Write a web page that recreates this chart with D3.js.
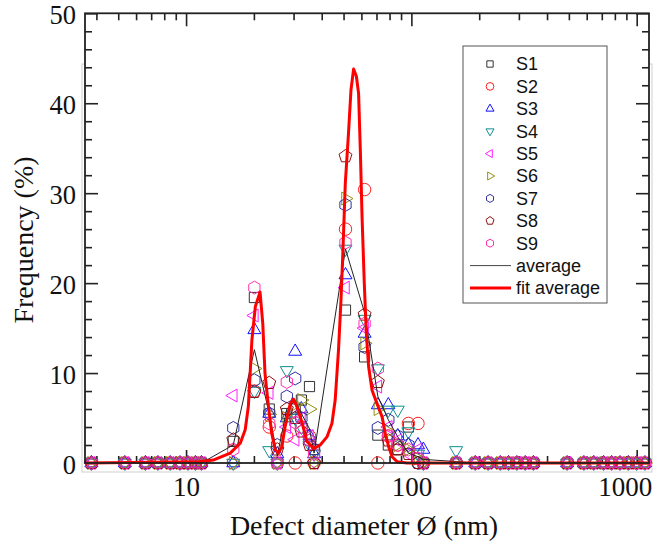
<!DOCTYPE html>
<html><head><meta charset="utf-8">
<script src="https://cdn.jsdelivr.net/npm/d3@7"></script>
<style>body{margin:0;background:#fff}</style>
</head><body><svg id="c" width="663" height="546"></svg>
<script>
// ---------------- DATA ----------------
const bins = [3.8,5.35,6.6,7.5,8.5,9.4,10.2,11.0,11.7,16.2,20.1,23.4,25.4,28.0,30.5,32.5,35.3,37.0,51,62,71,79,87,97,107,113,158,192,219,248,270,294,320,348,491,583,645,713,774,843,918,1000,1088];
const s1 = [0,0,0,0,0,0,0,0,0, 2.4,18.4,6.0,0,5.5,6.0,7.0,8.5,1.5, 17.0,11.8,3.1,2.0,1.5,4.0,0.5,0,0, 0,0,0,0,0,0,0,0,0,0,0,0,0,0,0,0];
const s2 = [0,0,0,0,0,0,0,0,0, 0,8.0,4.0,0,3.0,0,4.0,3.0,0, 26.0,30.4,0,3.0,2.0,4.4,4.4,0,0, 0,0,0,0,0,0,0,0,0,0,0,0,0,0,0,0];
const s3 = [0,0,0,0,0,0,0,0,0, 0,14.8,5.5,1.0,5.0,12.4,6.0,3.0,1.0, 20.9,14.4,6.45,6.45,3.0,2.0,2.0,1.5,0, 0,0,0,0,0,0,0,0,0,0,0,0,0,0,0,0];
const s4 = [0,0,0,0,0,0,0,0,0, 0,8.0,1.4,0,10.3,5.0,4.0,2.0,1.0, 23.8,16.0,10.5,5.9,5.9,3.5,1.0,0,1.4, 0,0,0,0,0,0,0,0,0,0,0,0,0,0,0,0];
const s5 = [0,0,0,0,0,0,0,0,0, 7.5,16.4,7.8,0,4.0,2.6,5.0,3.0,0, 19.5,15.0,8.5,4.0,2.5,1.0,1.5,0,0, 0,0,0,0,0,0,0,0,0,0,0,0,0,0,0,0];
const s6 = [0,0,0,0,0,0,0,0,0, 0,10.5,5.4,0,5.0,6.5,7.0,6.0,0, 29.4,13.3,6.0,3.5,2.0,1.5,0.5,0,0, 0,0,0,0,0,0,0,0,0,0,0,0,0,0,0,0];
const s7 = [0,0,0,0,0,0,0,0,0, 3.9,9.2,5.5,2.0,7.4,9.4,5.0,2.5,1.5, 28.7,12.9,3.9,4.8,3.0,2.0,0,0,0, 0,0,0,0,0,0,0,0,0,0,0,0,0,0,0,0];
const s8 = [0,0,0,0,0,0,0,0,0, 2.6,7.9,8.9,1.5,6.0,5.0,3.5,2.0,0, 34.1,16.5,9.0,2.5,1.5,1.0,0,0,0, 0,0,0,0,0,0,0,0,0,0,0,0,0,0,0,0];
const s9 = [0,0,0,0,0,0,0,0,0, 1.5,19.5,4.4,0,9.0,4.5,4.0,2.5,1.0, 24.5,15.5,10.5,3.0,2.0,1.5,0.5,0,0, 0,0,0,0,0,0,0,0,0,0,0,0,0,0,0,0];
const average = [0,0,0,0,0,0,0,0,0, 2.0,12.6,5.5,0.8,6.0,6.9,5.5,3.8,1.1, 23.8,16.7,7.4,4.8,2.9,1.1,0.7,0.4,0.16, 0,0,0,0,0,0,0,0,0,0,0,0,0,0,0,0];
const fitX = [3.56,11.5,13.2,15.7,17.4,18.3,18.9,19.25,19.6,20.3,21.3,21.9,22.4,23.2,24.0,24.9,25.7,26.6,27.5,29.0,30.0,31.0,32.7,34.4,36.8,39.4,42.2,44.4,45.9,47.5,48.7,49.7,50.9,52.6,53.95,55.4,57.0,58.3,59.35,60.4,61.8,63.1,64.6,66.9,70.4,74.1,76.6,79.3,82.1,86.4,95.7,1134];
const fitY = [0,0.15,0.33,1.1,2.2,3.7,6.3,10,13.7,17.4,19.0,15.5,10,6.3,3.3,1.45,1.1,1.8,4.0,6.6,7.1,6.3,4.5,2.4,1.6,2.0,2.9,4.4,7.0,12.6,18.1,23.7,31.1,36.7,41.5,43.8,43.0,41.1,34.8,27.4,20.0,14.4,10.7,8.1,6.6,5.15,3.3,1.8,0.7,0.15,0,0];
const seriesNames = ["S1","S2","S3","S4","S5","S6","S7","S8","S9"];
const seriesValues = [s1,s2,s3,s4,s5,s6,s7,s8,s9];
const xTicks = [10,100,1000];
const yTicks = [0,10,20,30,40,50];

// ---------------- STYLE ----------------
const colors = ["#333333","#ff2020","#1010ff","#109090","#ff20ff","#909010","#3030a0","#901010","#ff30b0"];
const shapes = [
  {n:4,rot:45,r:7.2},   // square
  {n:0,rot:0,r:6.2},    // circle
  {n:3,rot:0,r:7.5},    // up triangle
  {n:3,rot:180,r:7.5},  // down triangle
  {n:3,rot:-90,r:7.5},  // left triangle
  {n:3,rot:90,r:7.5},   // right triangle
  {n:6,rot:0,r:6.5},    // hexagon
  {n:5,rot:0,r:6.8},    // pentagon
  {n:6,rot:0,r:6.5}     // hexagon
];
function shapePath(sh, scale){
  const r = sh.r*scale;
  if(sh.n===0){
    const p = d3.path(); p.moveTo(r,0); p.arc(0,0,r,0,2*Math.PI); p.closePath(); return p.toString();
  }
  const pts=[];
  for(let i=0;i<sh.n;i++){
    const a=(sh.rot+i*360/sh.n)*Math.PI/180;
    pts.push([r*Math.sin(a),-r*Math.cos(a)]);
  }
  return "M"+pts.map(p=>p[0].toFixed(2)+","+p[1].toFixed(2)).join("L")+"Z";
}

const svg = d3.select("#c");
const L=85,R=649,T=13.3,B=463;
const x = d3.scaleLog().domain([3.56,1134]).range([L,R]);
const y = d3.scaleLinear().domain([0,50]).range([B,T]);

// light grey outer frame (partly covered by plot area)
svg.append("rect").attr("x",82).attr("y",64).attr("width",570).attr("height",408)
  .attr("fill","none").attr("stroke","#cfcfcf").attr("stroke-width",1);
svg.append("rect").attr("x",L).attr("y",T).attr("width",R-L).attr("height",B-T).attr("fill","#fff");

// minor ticks
const xMinor=[];
[1,10,100,1000].forEach(d=>{for(let k=2;k<=9;k++){const v=d*k; if(v>3.56&&v<1134) xMinor.push(v);}});
const yMinor=d3.range(0,51,2).filter(v=>v%10!==0);

const tickFont = "'Liberation Serif','Times New Roman',serif";
function styleAxis(g){
  g.select(".domain").remove();
  g.selectAll("line").attr("stroke","#222").attr("stroke-width",1.6);
  g.selectAll("text").attr("font-family",tickFont).attr("font-size",27).attr("fill","#111");
}
const xAxisG = svg.append("g").attr("transform",`translate(0,${B})`)
  .call(d3.axisBottom(x).tickValues(xTicks).tickFormat(d3.format("d")).tickSizeInner(-13).tickSizeOuter(0).tickPadding(14)).call(styleAxis);
xAxisG.selectAll(".tick text").filter(d=>d===1000).attr("text-anchor","end").attr("dx",15);
svg.append("g").attr("transform",`translate(0,${B})`)
  .call(d3.axisBottom(x).tickValues(xMinor).tickFormat("").tickSizeInner(-7).tickSizeOuter(0)).call(styleAxis);
svg.append("g").attr("transform",`translate(0,${T})`)
  .call(d3.axisTop(x).tickValues(xTicks).tickFormat("").tickSizeInner(-13).tickSizeOuter(0)).call(styleAxis);
svg.append("g").attr("transform",`translate(0,${T})`)
  .call(d3.axisTop(x).tickValues(xMinor).tickFormat("").tickSizeInner(-7).tickSizeOuter(0)).call(styleAxis);
const yAxisG = svg.append("g").attr("transform",`translate(${L},0)`)
  .call(d3.axisLeft(y).tickValues(yTicks).tickSizeInner(-13).tickSizeOuter(0).tickPadding(9)).call(styleAxis);
yAxisG.selectAll(".tick text").attr("font-size",26.5).attr("dy","0.4em");
svg.append("g").attr("transform",`translate(${L},0)`)
  .call(d3.axisLeft(y).tickValues(yMinor).tickFormat("").tickSizeInner(-7).tickSizeOuter(0)).call(styleAxis);
svg.append("g").attr("transform",`translate(${R},0)`)
  .call(d3.axisRight(y).tickValues(yTicks).tickFormat("").tickSizeInner(-13).tickSizeOuter(0)).call(styleAxis);
svg.append("g").attr("transform",`translate(${R},0)`)
  .call(d3.axisRight(y).tickValues(yMinor).tickFormat("").tickSizeInner(-7).tickSizeOuter(0)).call(styleAxis);

// markers
const plot = svg.append("g");
seriesValues.forEach((vals,si)=>{
  plot.append("g").selectAll("path").data(bins.map((b,i)=>[b,vals[i]])).join("path")
    .attr("transform",d=>`translate(${x(d[0])},${y(d[1])})`)
    .attr("d",shapePath(shapes[si],1))
    .attr("fill","none").attr("stroke",colors[si]).attr("stroke-width",1);
});

// average line
const line = d3.line().x(d=>x(d[0])).y(d=>y(d[1]));
plot.append("path").datum(bins.map((b,i)=>[b,average[i]]))
  .attr("d",line).attr("fill","none").attr("stroke","#222").attr("stroke-width",1);
// fit
const fitLine = d3.line().x(d=>x(d[0])).y(d=>y(d[1]));
plot.append("path").datum(fitX.map((v,i)=>[v,fitY[i]]))
  .attr("d",fitLine).attr("fill","none").attr("stroke","#ff0000").attr("stroke-width",3)
  .attr("stroke-linejoin","round");

// frame
svg.append("rect").attr("x",L).attr("y",T).attr("width",R-L).attr("height",B-T)
  .attr("fill","none").attr("stroke","#222").attr("stroke-width",1.8);

// titles
svg.append("text").attr("x",364).attr("y",535).attr("text-anchor","middle")
  .attr("font-family",tickFont).attr("font-size",28).attr("fill","#111").text("Defect diameter Ø (nm)");
svg.append("text").attr("transform","translate(33,240) rotate(-90)").attr("text-anchor","middle")
  .attr("font-family",tickFont).attr("font-size",28).attr("fill","#111").text("Frequency (%)");

// legend
const lg = svg.append("g");
lg.append("rect").attr("x",463).attr("y",46).attr("width",144).attr("height",257)
  .attr("fill","#fff").attr("stroke","#555").attr("stroke-width",1);
const rowY = i=>64+i*22.4;
const legFont="'Liberation Sans',Arial,sans-serif";
seriesNames.forEach((nm,i)=>{
  lg.append("path").attr("transform",`translate(490,${rowY(i)})`).attr("d",shapePath(shapes[i],0.62))
    .attr("fill","none").attr("stroke",colors[i]).attr("stroke-width",1);
  lg.append("text").attr("x",516).attr("y",rowY(i)).attr("dy","0.36em").attr("font-family",legFont)
    .attr("font-size",18).attr("fill","#111").text(nm);
});
lg.append("line").attr("x1",470).attr("x2",511).attr("y1",rowY(9)).attr("y2",rowY(9)).attr("stroke","#444").attr("stroke-width",1);
lg.append("text").attr("x",516).attr("y",rowY(9)).attr("dy","0.36em").attr("font-family",legFont).attr("font-size",18).attr("fill","#111").text("average");
lg.append("line").attr("x1",470).attr("x2",511).attr("y1",rowY(10)).attr("y2",rowY(10)).attr("stroke","#ff0000").attr("stroke-width",3);
lg.append("text").attr("x",516).attr("y",rowY(10)).attr("dy","0.36em").attr("font-family",legFont).attr("font-size",18).attr("fill","#111").text("fit average");
</script></body></html>
